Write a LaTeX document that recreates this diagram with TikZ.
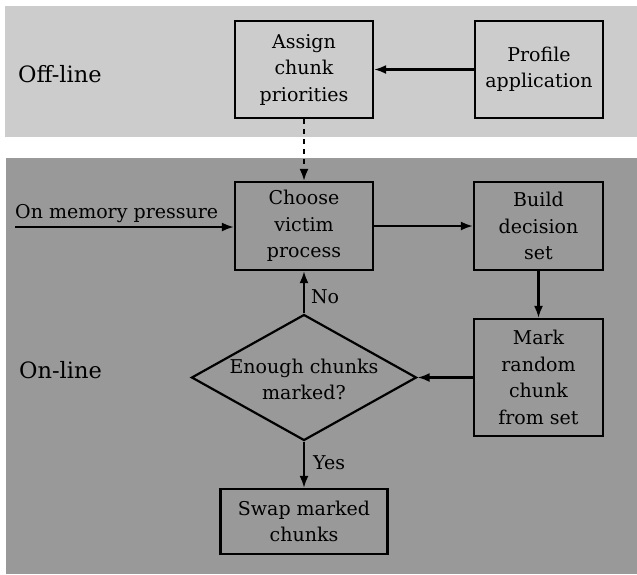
\documentclass[tikz,border=0pt]{standalone}
\usepackage{fontspec}
\setmainfont{DejaVu Serif}
\usetikzlibrary{shapes.geometric,arrows.meta}
\definecolor{lightband}{HTML}{CCCCCC}
\definecolor{darkband}{HTML}{999999}
\tikzset{
  boxnode/.style={draw=black, line width=2.2pt, align=center, inner sep=0pt, font=\fontsize{19}{26.5}\selectfont},
  decnode/.style={draw=black, line width=2.2pt, shape=diamond, inner sep=0pt},
  txtnode/.style={align=center, inner sep=0pt, font=\fontsize{19}{26.5}\selectfont},
  flow/.style={line width=2.2pt, -{Latex[length=12pt,width=9pt]}},
  lbl/.style={font=\fontsize{19}{22}\selectfont, inner sep=0pt},
  band/.style={font=\fontsize{22.5}{26}\selectfont, inner sep=0pt}
}
\begin{document}
\begin{tikzpicture}[x=1pt,y=-1pt]
\useasboundingbox (0,0) rectangle (637,574);
\fill[white] (0,0) rectangle (637,574);
\fill[lightband] (5,6) rectangle (637,137);
\fill[darkband] (6,158) rectangle (637,574);
\node[band, anchor=base west] (offl) at (18,82) {Off-line};
\node[band, anchor=base west] (onl) at (19,378) {On-line};
\node[boxnode, minimum width=138pt, minimum height=97pt] (assign) at (304,69.5) {Assign\\chunk\\priorities};
\node[boxnode, minimum width=128pt, minimum height=97pt] (profile) at (539,69.5) {Profile\\application};
\node[boxnode, minimum width=138pt, minimum height=88pt] (choose) at (304,226) {Choose\\victim\\process};
\node[boxnode, minimum width=129pt, minimum height=88pt] (build) at (538.5,226) {Build\\decision\\set};
\node[boxnode, minimum width=129pt, minimum height=117pt] (mark) at (538.5,377.5) {Mark\\random\\chunk\\from set};
\node[decnode, minimum width=225pt, minimum height=126pt] (enough) at (304,377.5) {};
\node[txtnode] (enoughtxt) at ([yshift=-2pt]enough.center) {Enough chunks\\marked?};
\node[boxnode, minimum width=167pt, minimum height=65pt] (swap) at (304,521.5) {Swap marked\\chunks};
\coordinate (press) at (15,227);
\node[lbl, anchor=base west] (presslbl) at (15,218) {On memory pressure};
\draw[flow] (profile.west) -- (assign.east);
\draw[flow, dash pattern=on 5pt off 5pt] (assign.south) -- (choose.north);
\draw[flow] (press) -- (choose.west |- press);
\draw[flow] (choose.east) -- (build.west);
\draw[flow] (build.south) -- (mark.north);
\draw[flow] (mark.west) -- (enough.east);
\draw[flow] (enough.north) -- node[lbl, anchor=west, xshift=6pt, pos=0.4] (nolbl) {No} (choose.south);
\draw[flow] (enough.south) -- node[lbl, anchor=west, xshift=8pt, pos=0.45] (yeslbl) {Yes} (swap.north);
\end{tikzpicture}
\end{document}
